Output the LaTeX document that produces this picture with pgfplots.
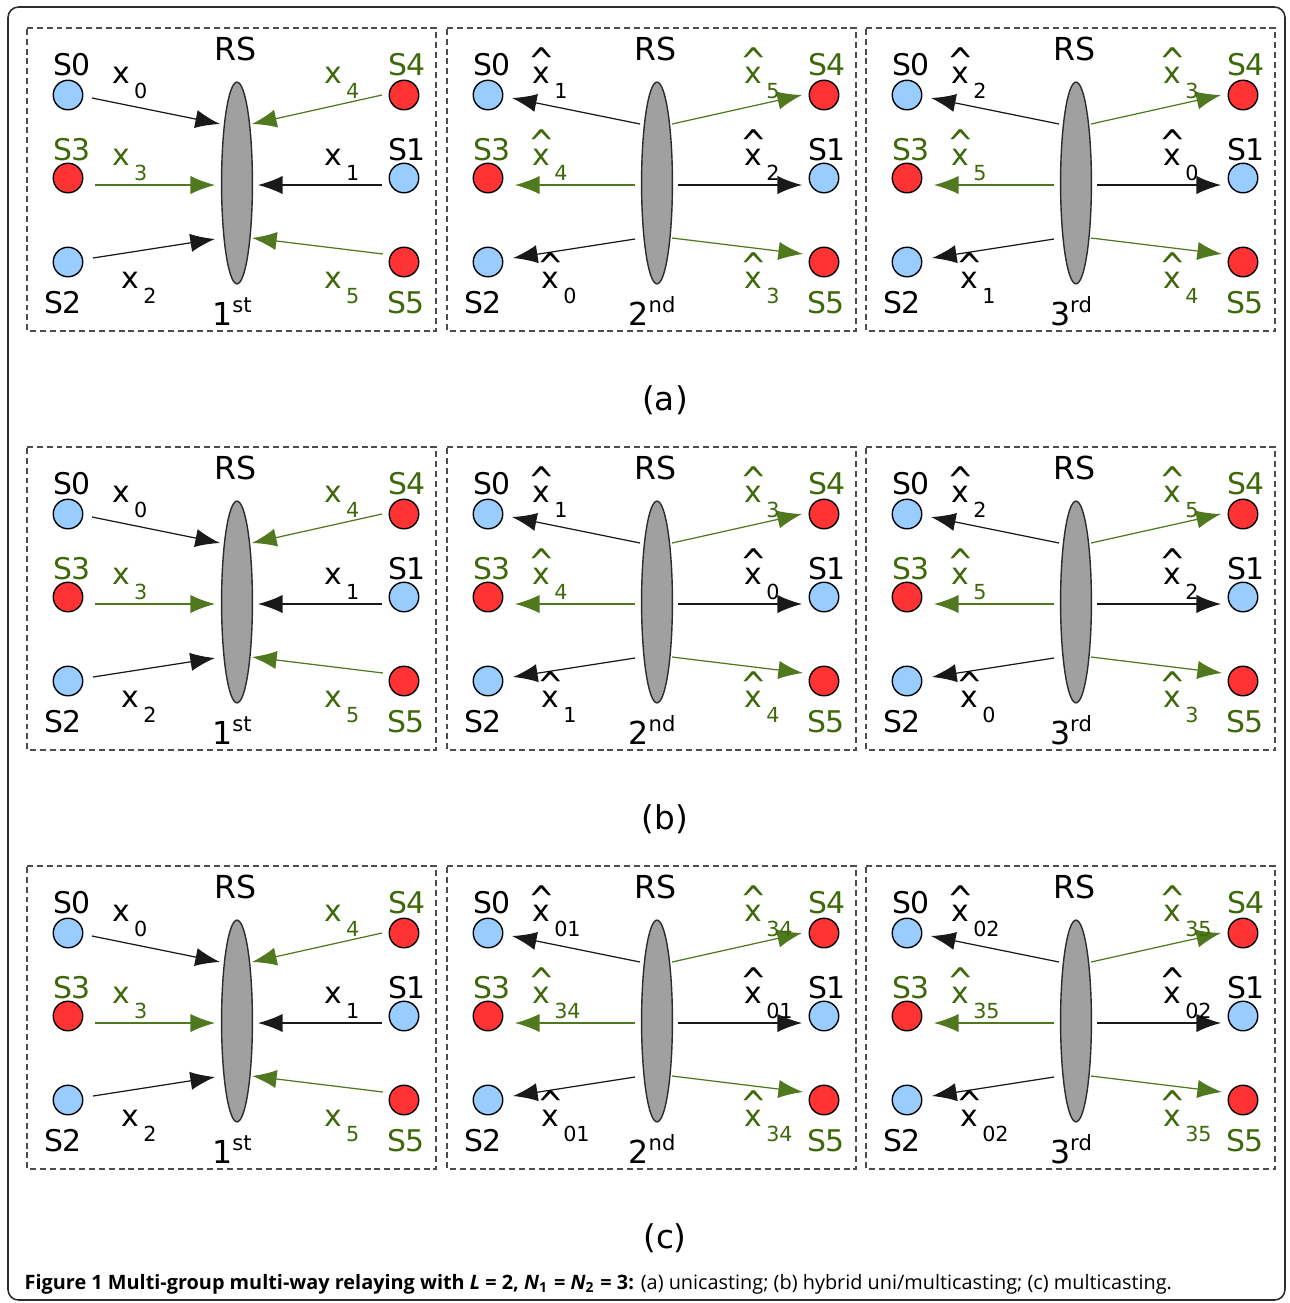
\documentclass[border=0pt]{standalone}
\usepackage{fontspec}
\setmainfont{DejaVu Sans}
\newfontfamily\capfont{Open Sans}
\usepackage{graphicx}
\usepackage{pgfplots}
\pgfplotsset{compat=1.18}
\usetikzlibrary{arrows.meta}

\definecolor{grn}{RGB}{62,104,10}
\definecolor{grnline}{RGB}{80,120,30}
\definecolor{sblue}{RGB}{153,204,255}
\definecolor{sred}{RGB}{255,51,51}
\definecolor{rsgray}{RGB}{160,160,160}
\definecolor{edge}{RGB}{45,45,45}

\newcommand\lbl{\fontsize{8.5}{10}\selectfont}
\newcommand\sub[1]{\kern1.1pt\raisebox{-4.3pt}{\fontsize{5.9}{6}\selectfont #1}}
\newcommand\hx{\ooalign{x\cr\hidewidth\raisebox{2.3pt}{\scalebox{1.25}[1.45]{\fontsize{7.2}{8}\selectfont\textasciicircum}}\hidewidth\cr}}
\newcommand\ord[2]{\fontsize{9}{10}\selectfont #1\raisebox{3.7pt}{\fontsize{6}{6}\selectfont #2}}

\pgfplotsset{
  px/.style={x=0.1mm, y=0.1mm, y dir=reverse, hide axis, clip=false, anchor=north west},
  tin/.style={-{Latex[length=7pt,width=5.2pt]}, line width=0.35pt},
  tout/.style={{Latex[length=7pt,width=5.2pt]}-, line width=0.35pt},
  flow/.style={tin},
  node/.style={only marks, mark=*, mark size=4.2pt, mark options={draw=edge, line width=0.35pt}},
}

% #1,#2 panel corner, #3 ordinal, #4..#9 labels: S0-side, S3-side, S2-side, S4-side, S1-side, S5-side
\newcommand\panel[9]{%
\begin{axis}[px, at={(#1*0.1mm,-#2*0.1mm)}, xmin=0, xmax=409, ymin=0, ymax=303]
  \addplot[draw=black!70, line width=0.3pt, dash pattern=on 1.7pt off 1.1pt]
    coordinates {(0,0) (409,0) (409,303) (0,303) (0,0)};
  % links between the users and the relay
  \addplot[flow, black!90] coordinates {(65,70) (193,96)};
  \addplot[flow, grnline] coordinates {(68,157) (188,157)};
  \addplot[flow, black!90] coordinates {(66,230) (188,211)};
  \addplot[flow, grnline] coordinates {(355,67) (225,96)};
  \addplot[flow, black!90] coordinates {(355,157) (231,157)};
  \addplot[flow, grnline] coordinates {(356,226) (225,210)};
  % users
  \addplot[node, mark options={fill=sblue}] coordinates {(41,67) (377,150) (41,234)};
  \addplot[node, mark options={fill=sred}] coordinates {(41,150) (377,67) (377,234)};
  % relay
  \addplot[only marks, mark=*, mark size=28.7pt,
    mark options={xscale=0.153, fill=rsgray, draw=edge, line width=0.4pt}] coordinates {(210,155)};
  \node[anchor=base, font=\fontsize{9}{10}\selectfont] at (axis cs:209,32) {RS};
  \node[anchor=base] at (axis cs:205,297) {#3};
  \node[anchor=base, font=\lbl] at (axis cs:45,47) {S0};
  \node[anchor=base, font=\lbl, text=grn] at (axis cs:45,132) {S3};
  \node[anchor=base, font=\lbl] at (axis cs:36,285) {S2};
  \node[anchor=base, font=\lbl, text=grn] at (axis cs:380,47) {S4};
  \node[anchor=base, font=\lbl] at (axis cs:380,132) {S1};
  \node[anchor=base, font=\lbl, text=grn] at (axis cs:379,285) {S5};
  \node[anchor=base west, inner sep=0pt, font=\lbl] at (axis cs:85,55) {#4};
  \node[anchor=base west, inner sep=0pt, font=\lbl, text=grn] at (axis cs:85,137) {#5};
  \node[anchor=base west, inner sep=0pt, font=\lbl] at (axis cs:94,260) {#6};
  \node[anchor=base west, inner sep=0pt, font=\lbl, text=grn] at (axis cs:297,55) {#7};
  \node[anchor=base west, inner sep=0pt, font=\lbl] at (axis cs:297,137) {#8};
  \node[anchor=base west, inner sep=0pt, font=\lbl, text=grn] at (axis cs:297,260) {#9};
\end{axis}}

\newcommand\first[2]{\pgfplotsset{flow/.style={tin}}%
  \panel{#1}{#2}{\ord{1}{st}}{x\sub{0}}{x\sub{3}}{x\sub{2}}{x\sub{4}}{x\sub{1}}{x\sub{5}}}

\begin{document}
\begin{tikzpicture}
\begin{axis}[px, at={(0,0)}, xmin=0, xmax=1290, ymin=0, ymax=1303]
  \path (axis cs:0,0) (axis cs:1290,1303);
  \draw[edge, line width=0.45pt, rounded corners=3pt] (axis cs:8,7) rectangle (axis cs:1285,1300);
  \node[anchor=base, font=\fontsize{9.3}{10}\selectfont] at (axis cs:665,410) {(a)};
  \node[anchor=base, font=\fontsize{9.3}{10}\selectfont] at (axis cs:665,829) {(b)};
  \node[anchor=base, font=\fontsize{9.3}{10}\selectfont] at (axis cs:665,1248) {(c)};
  \node[anchor=base west, inner sep=0pt, font=\capfont\fontsize{5.65}{6}\selectfont] at (axis cs:24,1289)
    {\textbf{Figure 1 Multi-group multi-way relaying with \textit{L} = 2, \textit{N}\textsubscript{1} = \textit{N}\textsubscript{2} = 3:} (a) unicasting; (b) hybrid uni/multicasting; (c) multicasting.};
\end{axis}

% (a) unicasting
\first{27}{28}
\pgfplotsset{flow/.style={tout}}
\panel{447}{28}{\ord{2}{nd}}{\hx\sub{1}}{\hx\sub{4}}{\hx\sub{0}}{\hx\sub{5}}{\hx\sub{2}}{\hx\sub{3}}
\panel{866}{28}{\ord{3}{rd}}{\hx\sub{2}}{\hx\sub{5}}{\hx\sub{1}}{\hx\sub{3}}{\hx\sub{0}}{\hx\sub{4}}

% (b) hybrid uni/multicasting
\first{27}{447}
\pgfplotsset{flow/.style={tout}}
\panel{447}{447}{\ord{2}{nd}}{\hx\sub{1}}{\hx\sub{4}}{\hx\sub{1}}{\hx\sub{3}}{\hx\sub{0}}{\hx\sub{4}}
\panel{866}{447}{\ord{3}{rd}}{\hx\sub{2}}{\hx\sub{5}}{\hx\sub{0}}{\hx\sub{5}}{\hx\sub{2}}{\hx\sub{3}}

% (c) multicasting
\first{27}{866}
\pgfplotsset{flow/.style={tout}}
\panel{447}{866}{\ord{2}{nd}}{\hx\sub{01}}{\hx\sub{34}}{\hx\sub{01}}{\hx\sub{34}}{\hx\sub{01}}{\hx\sub{34}}
\panel{866}{866}{\ord{3}{rd}}{\hx\sub{02}}{\hx\sub{35}}{\hx\sub{02}}{\hx\sub{35}}{\hx\sub{02}}{\hx\sub{35}}
\end{tikzpicture}
\end{document}
